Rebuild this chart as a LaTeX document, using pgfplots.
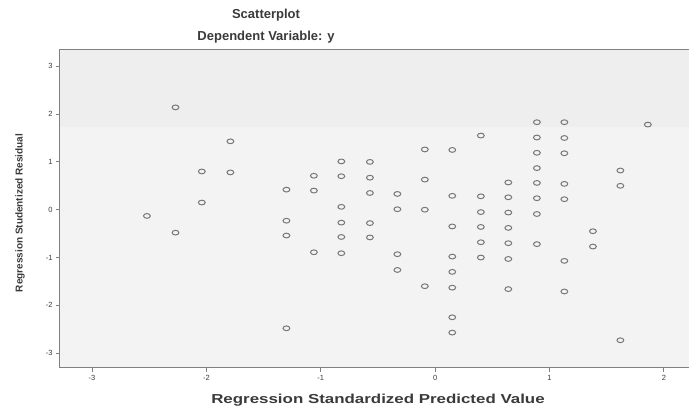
\documentclass[border=0pt]{standalone}
\usepackage{pgfplots}
\pgfplotsset{compat=1.18}
\usepackage{fontspec}
\setmainfont{Liberation Sans}
\definecolor{bgA}{HTML}{F3F3F3}
\definecolor{bgB}{HTML}{EEEEEE}
\definecolor{markc}{HTML}{777777}
\definecolor{axc}{HTML}{808080}
\definecolor{txt}{HTML}{3A3A3A}

\begin{document}
\begin{tikzpicture}[x=1pt,y=1pt]
\useasboundingbox (-60,-43) rectangle (629,368);
\begin{axis}[
  at={(0,0)}, anchor=south west,
  width=629pt, height=318pt, scale only axis,
  xmin=-3.28, xmax=2.22, ymin=-3.31, ymax=3.34,
  xtick={-3,-2,-1,0,1,2}, ytick={-3,-2,-1,0,1,2,3},
  xtick pos=bottom, ytick pos=left,
  tick align=outside, major tick length=4pt,
  tick style={axc, line width=0.8pt},
  axis line style={axc, line width=1pt},
  tick label style={font=\fontsize{7.5}{8}\selectfont, text=txt},
  /pgf/number format/assume math mode=true,
  axis background/.style={fill=bgA},
  clip=false,
]
\fill[bgB] (axis cs:-3.28,1.72) rectangle (axis cs:2.22,3.34);
\draw[axc, line width=1pt] (axis cs:-3.28,3.34) -- (axis cs:2.22,3.34);
\addplot[only marks, mark=o, mark size=3.4pt, draw=markc,
  mark options={yscale=0.7, line width=1pt}] coordinates {
(-2.27,2.14) (-1.79,1.43) (-2.04,0.80) (-1.79,0.78) (-2.04,0.15)
(-2.52,-0.13) (-2.27,-0.48)
(0.40,1.55) (-0.09,1.26) (0.15,1.25) (-0.82,1.01) (-0.57,1.00)
(-1.06,0.71) (-0.82,0.70) (-0.57,0.67) (-0.09,0.63)
(-1.30,0.42) (-1.06,0.40) (-0.57,0.35) (-0.33,0.33) (0.15,0.29) (0.40,0.28)
(-0.82,0.06) (-0.33,0.01) (-0.09,0.00) (0.40,-0.05)
(-1.30,-0.23) (-0.82,-0.27) (-0.57,-0.28) (0.15,-0.35) (0.40,-0.36)
(-1.30,-0.54) (-0.82,-0.57) (-0.57,-0.58) (0.40,-0.68)
(-1.06,-0.89) (-0.82,-0.91) (-0.33,-0.93) (0.15,-0.98) (0.40,-1.00)
(-0.33,-1.26) (0.15,-1.30) (-0.09,-1.60) (0.15,-1.63)
(-1.30,-2.48) (0.15,-2.25) (0.15,-2.57)
(0.89,1.83) (1.13,1.83) (1.86,1.78) (0.89,1.51) (1.13,1.50)
(0.89,1.19) (1.13,1.18) (0.89,0.87) (1.62,0.82)
(0.64,0.57) (0.89,0.56) (1.13,0.54) (1.62,0.50)
(0.64,0.26) (0.89,0.24) (1.13,0.22)
(0.64,-0.06) (0.89,-0.09) (0.64,-0.38) (1.38,-0.45)
(0.64,-0.70) (0.89,-0.72) (1.38,-0.77)
(0.64,-1.03) (1.13,-1.07) (0.64,-1.66) (1.13,-1.71) (1.62,-2.73)
};
\end{axis}
\node[font=\bfseries\fontsize{13}{15}\selectfont, text=txt] at (206,353) {Scatterplot};
\node[font=\bfseries\fontsize{13}{15}\selectfont, text=txt] at (206,331) {Dependent Variable: y};
\node[font=\bfseries\fontsize{13}{15}\selectfont, text=txt, xscale=1.3] at (318,-32) {Regression Standardized Predicted Value};
\node[font=\bfseries\fontsize{10}{12}\selectfont, text=txt, rotate=90] at (-40,155) {Regression Studentized Residual};
\end{tikzpicture}
\end{document}
